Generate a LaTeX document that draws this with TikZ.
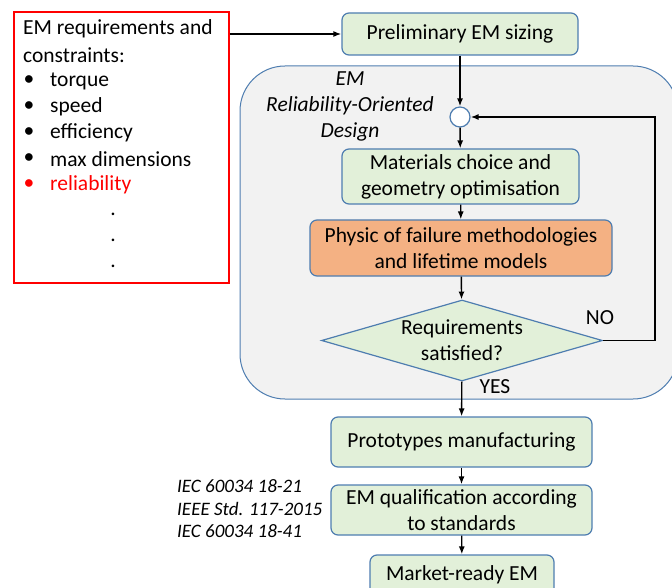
\documentclass[tikz,border=0pt]{standalone}
\usepackage{fontspec}
\setmainfont{Carlito}
\usetikzlibrary{shapes.geometric,arrows.meta}
\definecolor{boxline}{HTML}{4E7DB0}
\definecolor{boxgreen}{HTML}{E2F0D9}
\definecolor{boxorange}{HTML}{F4B183}
\definecolor{areagray}{HTML}{F2F2F2}
\begin{document}
\begin{tikzpicture}[x=1pt,y=-1pt,
  font=\fontsize{21.5}{26}\selectfont,
  box/.style={draw=boxline,fill=boxgreen,rounded corners=7pt,line width=1.2pt,align=center,inner sep=0pt},
  flow/.style={-{Latex[length=8pt,width=6pt]},line width=1.4pt}]
\useasboundingbox (0,0) rectangle (672,588);
\draw[draw=boxline,fill=areagray,rounded corners=45pt,line width=1pt] (240,66) rectangle (678,399);
\node[draw=red,line width=1.5pt,minimum width=215pt,minimum height=271pt,inner sep=0pt] (reqs) at (121.5,147.5) {};
\node[anchor=west,inner sep=0pt] (reqtitle) at (23,29) {EM requirements and};
\node[anchor=west,inner sep=0pt] (reqsub) at (23,55) {constraints:};
\foreach \txt [count=\i] in {torque,speed,efficiency,max dimensions} {
  \node[inner sep=0pt] (bul\i) at (29,55+26*\i) {\textbullet};
  \node[anchor=west,inner sep=0pt] (item\i) at (50,55+26*\i) {\txt};
}
\node[inner sep=0pt,text=red] (bul5) at (29,185) {\textbullet};
\node[anchor=west,inner sep=0pt,text=red] (item5) at (50,185) {reliability};
\foreach \y in {214,240,266} \node[inner sep=0pt] at (113,\y) {.};
\node[box,minimum width=236pt,minimum height=42pt] (sizing) at (460,34) {Preliminary EM sizing};
\node[align=center,font=\fontsize{21.5}{26}\selectfont\itshape] (roddesign) at (350,106) {EM\\Reliability-Oriented\\Design};
\node[circle,draw=boxline,fill=white,line width=1.2pt,minimum size=20pt,inner sep=0pt] (join) at (460,117) {};
\node[box,minimum width=237pt,minimum height=55pt] (materials) at (460.5,176.5) {Materials choice and\\geometry optimisation};
\node[box,fill=boxorange,minimum width=302pt,minimum height=56pt] (failure) at (461,248) {Physic of failure methodologies\\and lifetime models};
\node[diamond,draw=boxline,fill=boxgreen,line width=1.2pt,minimum width=281pt,minimum height=81pt,inner sep=0pt,aspect=3.47] (check) at (462,340.5) {};
\node[align=center] (checktext) at (check) {Requirements\\satisfied?};
\node[box,minimum width=261pt,minimum height=50pt] (proto) at (461.5,442) {Prototypes manufacturing};
\node[box,minimum width=261pt,minimum height=50pt] (qualif) at (461.5,510) {EM qualification according\\to standards};
\node[box,minimum width=184pt,minimum height=40pt] (market) at (462,575) {Market-ready EM};
\node[anchor=west,align=left,inner sep=0pt,font=\fontsize{19}{22.5}\selectfont\itshape] (standards) at (177,509) {IEC 60034 18-21\\IEEE Std. 117-2015\\IEC 60034 18-41};
\node (nolabel) at (600,318) {NO};
\node (yeslabel) at (495,387) {YES};
\coordinate (loopcorner) at (655,340.5);
\draw[flow,line width=2.6pt] (reqs.east |- sizing) -- (sizing.west);
\draw[flow] (sizing) -- (join);
\draw[flow] (join) -- (materials);
\draw[flow] (materials) -- (failure);
\draw[flow] (failure) -- (check);
\draw[flow] (check.east) -- (loopcorner) |- (join);
\draw[flow] (check) -- (proto);
\draw[flow] (proto) -- (qualif);
\draw[flow] (qualif) -- (market);
\end{tikzpicture}
\end{document}
